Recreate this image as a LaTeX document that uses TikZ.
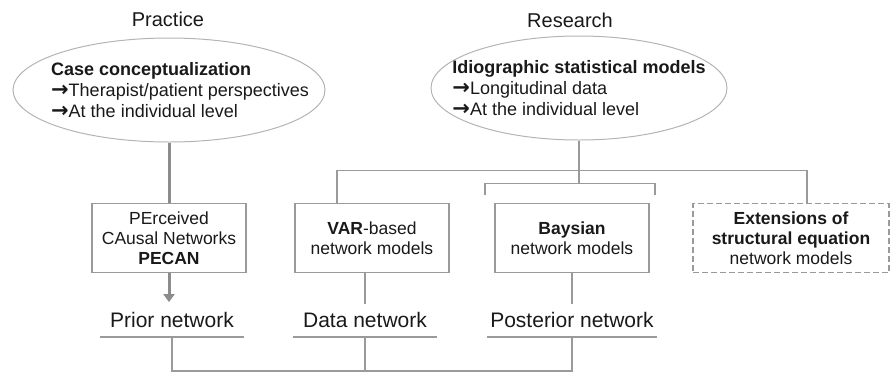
\documentclass[tikz,border=0pt]{standalone}
\usepackage{fontspec}
\setmainfont{Liberation Sans}
\newfontfamily\arrowfont{DejaVu Sans}
\usepackage{xcolor}
\usetikzlibrary{shapes.geometric, arrows.meta, positioning}
\definecolor{linegray}{HTML}{9A9A9A}
\definecolor{flowgray}{HTML}{8C8C8C}
\definecolor{ringgray}{HTML}{B4B4B4}
\newcommand{\pointer}{{\arrowfont\bfseries\fontsize{21}{21}\selectfont →}}
\tikzset{
  topic/.style={ellipse, draw=ringgray, line width=1pt, inner sep=0pt,
                minimum width=312pt, minimum height=104pt},
  topictext/.style={align=left, inner sep=0pt, text=black!90,
                    font=\fontsize{18}{21}\selectfont},
  modelbox/.style={rectangle, draw=linegray, line width=1.3pt,
                   minimum width=154pt, minimum height=69pt, align=center,
                   text=black!90, font=\fontsize{17.5}{20}\selectfont},
  netlabel/.style={anchor=south, inner xsep=0pt, inner ysep=4.5pt,
                   text height=15pt, text depth=4.5pt, minimum width=144pt,
                   text=black!90, font=\fontsize{21}{24}\selectfont},
  heading/.style={text=black!90, font=\fontsize{20}{24}\selectfont},
  link/.style={draw=linegray, line width=1.3pt},
  flow/.style={draw=flowgray, line width=3pt},
}
\begin{document}
\begin{tikzpicture}[x=1pt, y=1pt]
    \useasboundingbox (0,0) rectangle (891,-373);
    % the two sides
    \node[heading] (practice) at (168,-19) {Practice};
    \node[heading] (research) at (570,-20) {Research};
    \node[topic] (caseell) at (169,-90) {};
    \node[topictext] (casetxt) at ([xshift=11pt]caseell.center)
      {\textbf{Case conceptualization}\\\pointer Therapist/patient perspectives\\\pointer At the individual level};
    \node[topic, minimum width=296pt] (idioell) at (579,-88) {};
    \node[topictext] (idiotxt) at (idioell.center)
      {\textbf{Idiographic statistical models}\\\pointer Longitudinal data\\\pointer At the individual level};
    % model boxes
    \node[modelbox] (pecan) at (169,-238) {PErceived\\CAusal Networks\\\textbf{PECAN}};
    \node[modelbox] (var) at (372,-238) {\textbf{VAR}-based\\network models};
    \node[modelbox] (bays) at (572,-238) {\textbf{Baysian}\\network models};
    \node[modelbox, dashed, dash pattern=on 6pt off 3pt, minimum width=196pt] (ext) at (791,-238)
      {\textbf{Extensions of}\\\textbf{structural equation}\\network models};
    % resulting networks
    \node[netlabel] (prior) at (172,-337) {Prior network};
    \node[netlabel] (data) at (365,-337) {Data network};
    \node[netlabel, minimum width=169pt] (post) at (572,-337) {Posterior network};
    \foreach \n in {prior,data,post}
      \draw[link] (\n.south west) -- (\n.south east);
    % connectors
    \draw[flow] (caseell.south) -- (pecan.north);
    \draw[flow, -{Triangle[width=11pt,length=8pt]}, shorten >=6pt] (pecan.south) -- (pecan.south |- prior.north);
    \draw[link] (idioell.south) -- ++(0,-30) coordinate (split);
    \draw[link] ([xshift=-35pt]var.north) |- (split) -| ([xshift=16pt]ext.north);
    \draw[link] (split) -- ++(0,-13) coordinate (brk);
    \draw[link] ([xshift=-87pt,yshift=8pt]bays.north) |- (brk) -| ([xshift=83pt,yshift=8pt]bays.north);
    \draw[link, shorten >=4pt] (data.north |- var.south) -- (data.north);
    \draw[link, shorten >=4pt] (bays.south) -- (post.north);
    \draw[link] (prior.south) -- ++(0,-34) coordinate (merge) -| (post.south);
    \draw[link] (data.south) -- (data.south |- merge);
\end{tikzpicture}
\end{document}
